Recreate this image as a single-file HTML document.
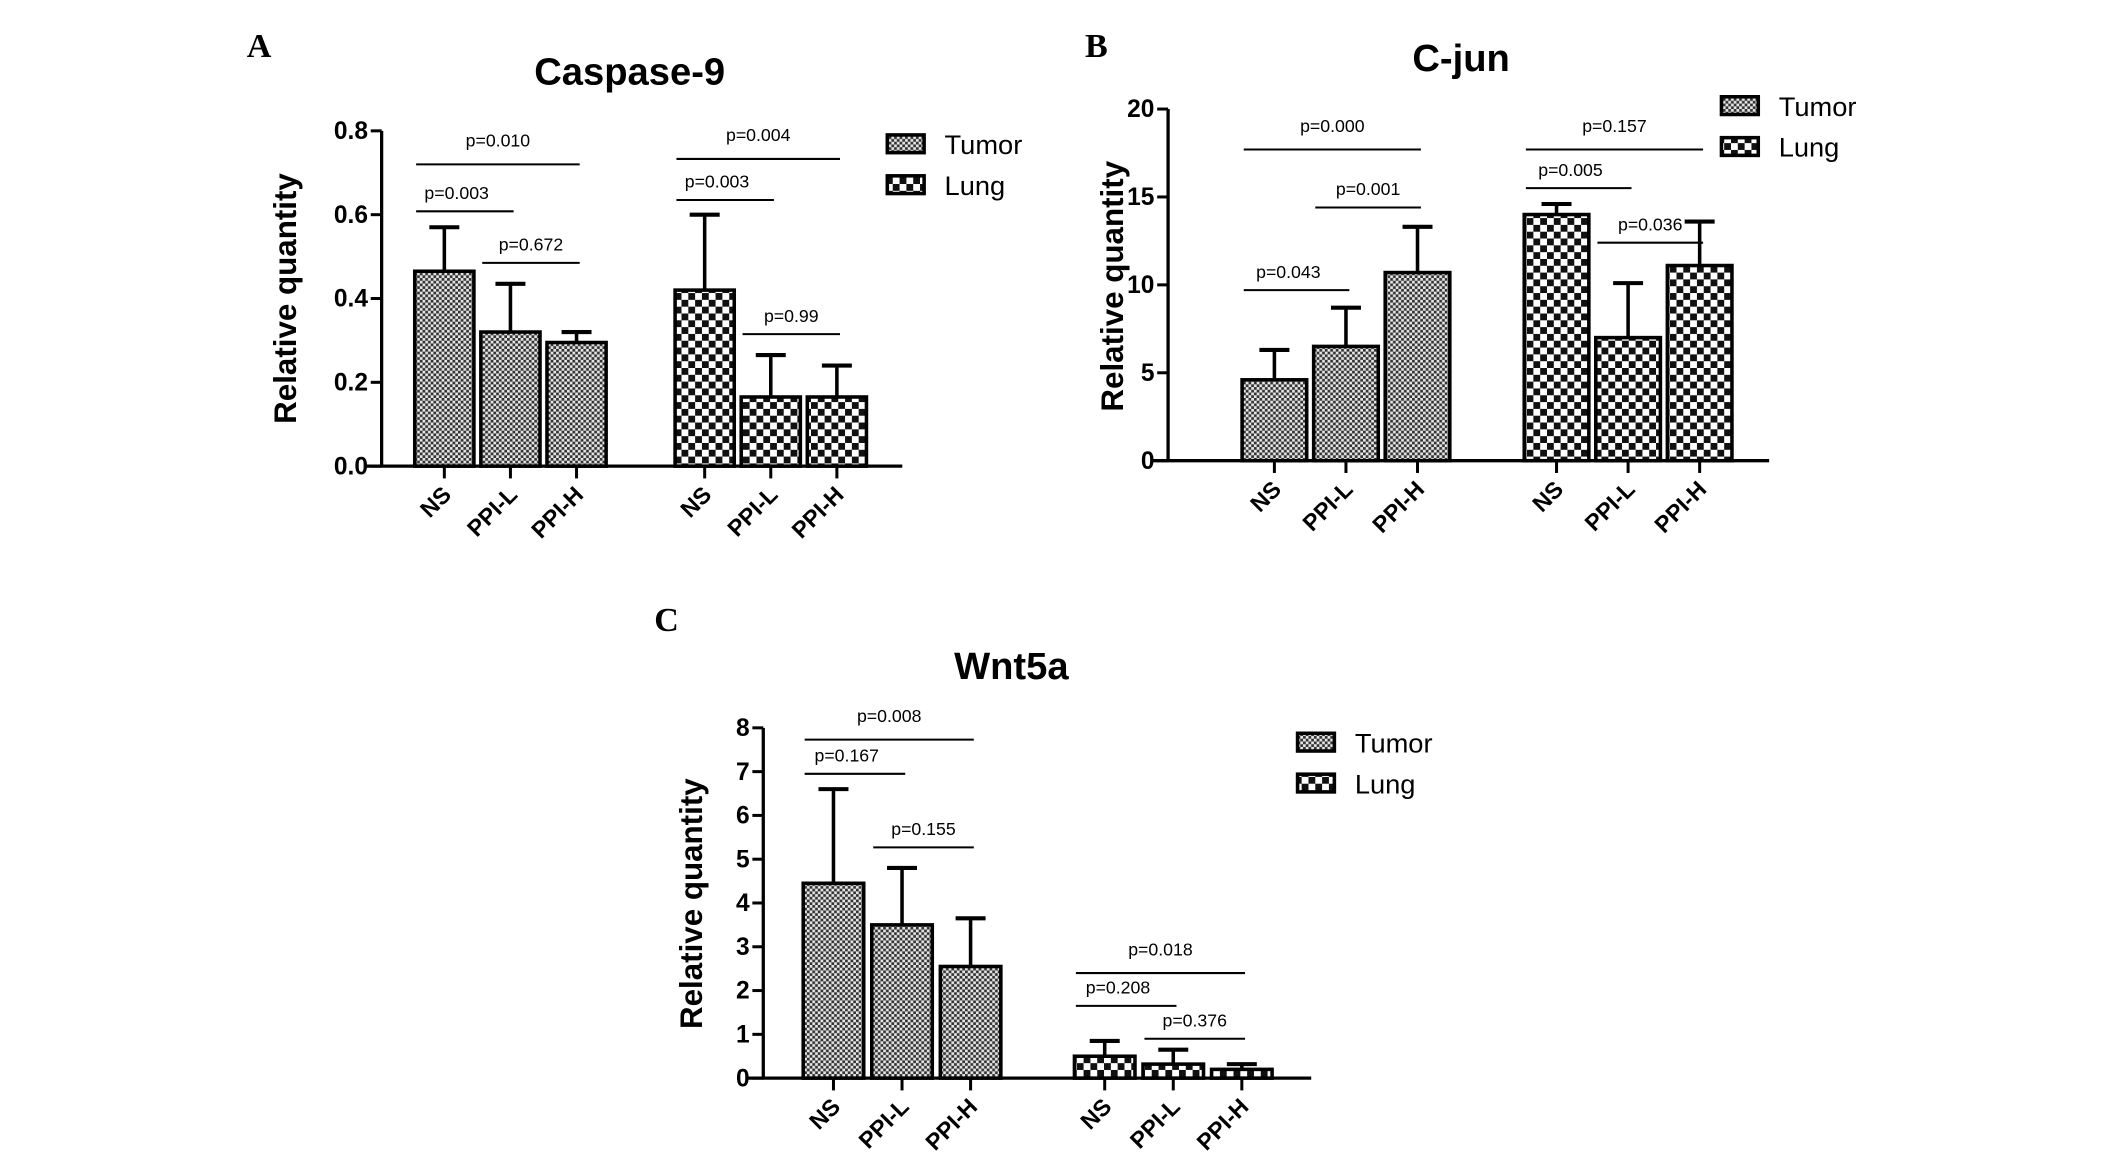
<!DOCTYPE html>
<html><head><meta charset="utf-8"><style>
html,body{margin:0;padding:0;background:#fff;}
svg{display:block;font-family:"Liberation Sans",Arial,sans-serif;}
</style></head><body>
<svg id="fig" width="2126" height="1170" viewBox="0 0 1559.8 858.4" xmlns="http://www.w3.org/2000/svg">
<defs>
<pattern id="patTumor" patternUnits="userSpaceOnUse" width="4" height="4">
<rect width="4" height="4" fill="#e6e6e6"/><rect width="2" height="2" fill="#333"/><rect x="2" y="2" width="2" height="2" fill="#333"/>
</pattern>
<pattern id="patLung" patternUnits="userSpaceOnUse" width="10" height="10">
<rect width="10" height="10" fill="#fff"/><rect width="5" height="5" fill="#111"/><rect x="5" y="5" width="5" height="5" fill="#111"/>
</pattern>
</defs>
<g id="root"></g>
</svg>
<script>
// ---- Data ----
const categories = ["NS", "PPI-L", "PPI-H"];
const casp9Tumor = [0.465, 0.32, 0.295];
const casp9TumorErr = [0.105, 0.115, 0.025];
const casp9Lung = [0.42, 0.165, 0.165];
const casp9LungErr = [0.18, 0.10, 0.075];
const casp9Ticks = ["0.0", "0.2", "0.4", "0.6", "0.8"];
const cjunTumor = [4.6, 6.5, 10.7];
const cjunTumorErr = [1.7, 2.2, 2.6];
const cjunLung = [14.0, 7.0, 11.1];
const cjunLungErr = [0.6, 3.1, 2.5];
const cjunTicks = ["0", "5", "10", "15", "20"];
const wntTumor = [4.45, 3.5, 2.55];
const wntTumorErr = [2.15, 1.3, 1.1];
const wntLung = [0.5, 0.32, 0.2];
const wntLungErr = [0.35, 0.33, 0.12];
const wntTicks = ["0", "1", "2", "3", "4", "5", "6", "7", "8"];
const casp9Sig = [
  {g:0, a:0, b:2, v:0.72, label:"p=0.010"},
  {g:0, a:0, b:1, v:0.608, label:"p=0.003"},
  {g:0, a:1, b:2, v:0.485, label:"p=0.672"},
  {g:1, a:0, b:2, v:0.733, label:"p=0.004"},
  {g:1, a:0, b:1, v:0.635, label:"p=0.003"},
  {g:1, a:1, b:2, v:0.315, label:"p=0.99"}];
const cjunSig = [
  {g:0, a:0, b:2, v:17.7, label:"p=0.000"},
  {g:0, a:1, b:2, v:14.4, label:"p=0.001"},
  {g:0, a:0, b:1, v:9.7, label:"p=0.043"},
  {g:1, a:0, b:2, v:17.7, label:"p=0.157"},
  {g:1, a:0, b:1, v:15.5, label:"p=0.005"},
  {g:1, a:1, b:2, v:12.4, label:"p=0.036"}];
const wntSig = [
  {g:0, a:0, b:2, v:7.73, label:"p=0.008"},
  {g:0, a:0, b:1, v:6.95, label:"p=0.167"},
  {g:0, a:1, b:2, v:5.27, label:"p=0.155"},
  {g:1, a:0, b:2, v:2.4, label:"p=0.018"},
  {g:1, a:0, b:1, v:1.65, label:"p=0.208"},
  {g:1, a:1, b:2, v:0.9, label:"p=0.376"}];

const NS = "http://www.w3.org/2000/svg";
const root = document.getElementById("root");
function mk(tag, attrs, parent, text){
  const e = document.createElementNS(NS, tag);
  for (const k in attrs) e.setAttribute(k, attrs[k]);
  if (text !== undefined) e.textContent = text;
  (parent || root).appendChild(e);
  return e;
}

function panel(cfg){
  const g = mk("g", {});
  
  
  const y = v => cfg.y0 - (v / cfg.ymax) * (cfg.y0 - cfg.ytop);
  const bx = (grp, i) => cfg.starts[grp] + i * cfg.pitch;
  const bc = (grp, i) => bx(grp, i) + cfg.bw / 2;

  const L = mk("text", {x: cfg.letter[0], y: cfg.letter[1], "font-family": "Liberation Serif, serif", "font-weight": "bold", "font-size": 25}, g, cfg.letterText);
  
  
  const T = mk("text", {x: cfg.title[0], y: cfg.title[1], "text-anchor": "middle", "font-weight": "bold", "font-size": 28}, g, cfg.titleText);
  
  
  const YL = mk("text", {x: 0, y: 0, "text-anchor": "middle", "font-weight": "bold", "font-size": 23, transform: `translate(${cfg.ylab[0]},${cfg.ylab[1]}) rotate(-90)`}, g, "Relative quantity");
  
  

  const series = [[cfg.tumor, cfg.tumorErr, "url(#patTumor)", "tumor"], [cfg.lung, cfg.lungErr, "url(#patLung)", "lung"]];
  series.forEach((s, grp) => {
    s[0].forEach((v, i) => {
      const x = bx(grp, i);
      const top = y(v + s[1][i]);
      const el = mk("line", {x1: bc(grp, i), x2: bc(grp, i), y1: y(v), y2: top, stroke: "#000", "stroke-width": 2.6}, g);
      
      
      const cap = mk("line", {x1: bc(grp, i) - 11, x2: bc(grp, i) + 11, y1: top, y2: top, stroke: "#000", "stroke-width": 3}, g);
      
      
      const r = mk("rect", {x: x + 1.3, y: y(v), width: cfg.bw - 2.6, height: y(0) - y(v), fill: s[2], stroke: "#000", "stroke-width": 2.6}, g);
      
      
    });
  });

  const ya = mk("line", {x1: cfg.ax, x2: cfg.ax, y1: cfg.ytop, y2: cfg.y0 + 1, stroke: "#000", "stroke-width": 2.4}, g);
  
  
  const xa = mk("line", {x1: cfg.ax - 12, x2: cfg.xend, y1: cfg.y0, y2: cfg.y0, stroke: "#000", "stroke-width": 2.4}, g);
  
  
  const n = cfg.ticks.length - 1;
  cfg.ticks.forEach((t, k) => {
    const v = cfg.ymax * k / n;
    mk("line", {x1: cfg.ax - 8, x2: cfg.ax, y1: y(v), y2: y(v), stroke: "#000", "stroke-width": 2.2}, g);
    const tl = mk("text", {x: cfg.ax - 10, y: y(v) + 6, "text-anchor": "end", "font-weight": "bold", "font-size": 18}, g, t);
    
    
  });
  [0, 1].forEach(grp => categories.forEach((c, i) => {
    const cx = bc(grp, i);
    mk("line", {x1: cx, x2: cx, y1: cfg.y0, y2: cfg.y0 + 9, stroke: "#000", "stroke-width": 2.2}, g);
    const xl = mk("text", {x: 0, y: 0, "text-anchor": "end", "font-weight": "bold", "font-size": 17, transform: `translate(${cx + 6},${cfg.y0 + 22}) rotate(-45)`}, g, c);
    
    
  }));

  cfg.sig.forEach(s => {
    const x1 = bc(s.g, s.a) - cfg.bw * 0.45, x2 = bc(s.g, s.b) + cfg.bw * 0.05;
    const ly = y(s.v);
    const ln = mk("line", {x1: x1, x2: x2, y1: ly, y2: ly, stroke: "#000", "stroke-width": 1.5}, g);
    
    
    const tx = mk("text", {x: (x1 + x2) / 2 - (s.a === 0 && s.b === 1 ? 6 : 0), y: ly - (s.a === 0 && s.b === 2 ? 13 : 9), "text-anchor": "middle", "font-size": 13}, g, s.label);
    
    
  });

  [["Tumor", "url(#patTumor)"], ["Lung", "url(#patLung)"]].forEach((l, k) => {
    const ly = cfg.leg[1] + k * 30;
    const lr = mk("rect", {x: cfg.leg[0], y: ly, width: 27, height: 13, fill: l[1], stroke: "#000", "stroke-width": 2.6}, g);
    
    
    const lt = mk("text", {x: cfg.leg[0] + 42, y: ly + 14, "font-size": 20}, g, l[0]);
    
    
  });
}

panel({name: "panel-a-caspase9", letterText: "A", letter: [181, 42], titleText: "Caspase-9", title: [462, 62],
  ylab: [217, 219], ax: 280, y0: 342, ytop: 96, ymax: 0.8, xend: 662, bw: 46, pitch: 48.5, starts: [303, 494],
  tumor: casp9Tumor, tumorErr: casp9TumorErr, lung: casp9Lung, lungErr: casp9LungErr, ticks: casp9Ticks, sig: casp9Sig, leg: [651, 99]});
panel({name: "panel-b-cjun", letterText: "B", letter: [796, 42], titleText: "C-jun", title: [1072, 52],
  ylab: [824, 210], ax: 857, y0: 338, ytop: 80, ymax: 20, xend: 1298, bw: 50, pitch: 52.5, starts: [910, 1117],
  tumor: cjunTumor, tumorErr: cjunTumorErr, lung: cjunLung, lungErr: cjunLungErr, ticks: cjunTicks, sig: cjunSig, leg: [1263, 71]});
panel({name: "panel-c-wnt5a", letterText: "C", letter: [480, 463], titleText: "Wnt5a", title: [742, 498],
  ylab: [515, 663], ax: 560, y0: 791, ytop: 534, ymax: 8, xend: 962, bw: 47, pitch: 50.3, starts: [588, 787],
  tumor: wntTumor, tumorErr: wntTumorErr, lung: wntLung, lungErr: wntLungErr, ticks: wntTicks, sig: wntSig, leg: [952, 538]});
</script>
</body></html>
